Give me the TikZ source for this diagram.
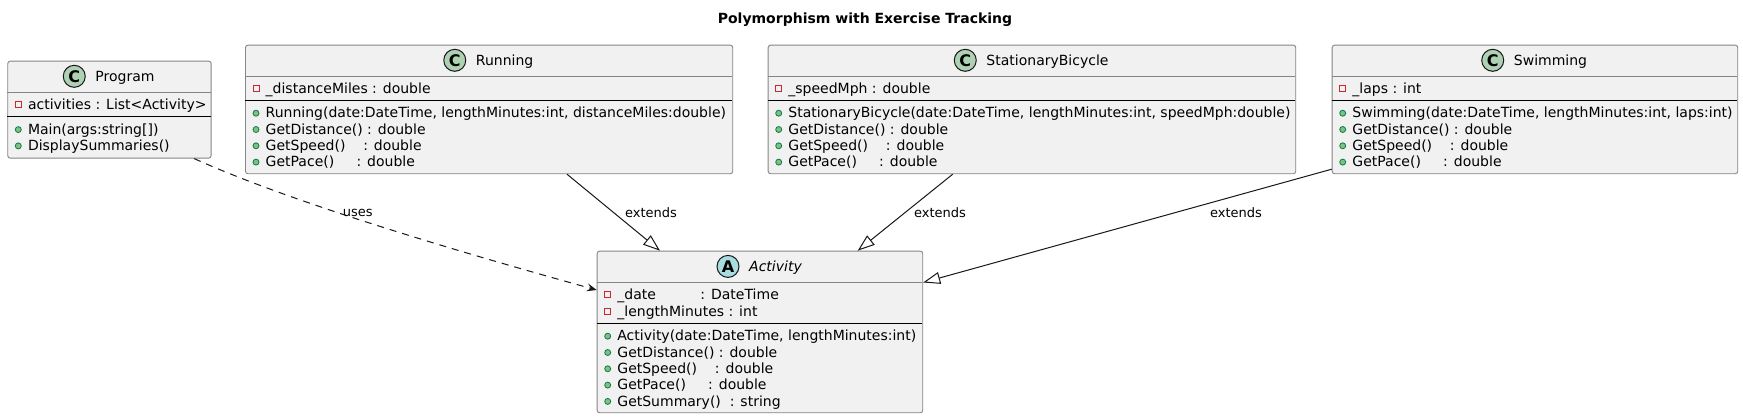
\documentclass[tikz,border=0pt]{standalone}
\usepackage{fontspec}
\setmainfont{DejaVu Sans}
\usetikzlibrary{arrows.meta,calc}
\definecolor{umlborder}{HTML}{181818}
\definecolor{boxedge}{HTML}{858585}
\definecolor{umlfill}{HTML}{F1F1F1}
\definecolor{circC}{HTML}{ADD1B2}
\definecolor{circA}{HTML}{A9DCDF}
\definecolor{privred}{HTML}{C82930}
\definecolor{pubgreen}{HTML}{038048}
\definecolor{pubfill}{HTML}{84BE84}
\newcommand{\memfont}{\fontsize{14}{16.3}\selectfont}
\newcommand{\lblfont}{\fontsize{13}{15}\selectfont}
\newcommand{\ttlfont}{\fontsize{14}{16}\selectfont\bfseries}
\newcommand{\spcs}[1]{\hspace*{#1\fontdimen2\font}}
\tikzset{
  classbox/.style={draw=boxedge, line width=0.9pt, fill=umlfill, rounded corners=2.5pt, inner sep=0pt, anchor=north west},
  mtext/.style={anchor=base west, inner sep=0pt, font=\memfont},
  cname/.style={anchor=base, inner sep=0pt, font=\memfont},
  circlemark/.style={circle, draw=umlborder, line width=1pt, minimum size=22pt, inner sep=0pt, font=\fontsize{16}{16}\selectfont\bfseries},
  privmark/.style={draw=privred, line width=0.9pt},
  pubmark/.style={draw=pubgreen, fill=pubfill, line width=0.8pt},
  hsep/.style={draw=boxedge, line width=0.9pt},
  fsep/.style={draw=black, line width=1pt},
  extarrow/.style={draw=umlborder, line width=1pt, -{Triangle[open, length=17pt, width=12pt]}},
  usesarrow/.style={draw=umlborder, line width=1pt, dash pattern=on 7pt off 6pt, -{Stealth[length=10pt, width=8pt, inset=4pt]}},
  lbl/.style={anchor=base, inner sep=0pt, font=\lblfont}
}
% name, left x, baseline, text
\newcommand{\mpriv}[4]{%
  \draw[privmark] (#2+8,#3-8) rectangle (#2+14,#3-2);
  \node[mtext] (#1) at (#2+20.5,#3) {#4};}
\newcommand{\mpub}[4]{%
  \draw[pubmark] (#2+11,#3-4.6) circle[radius=3pt];
  \node[mtext] (#1) at (#2+20.5,#3) {#4};}
% prefix, box centre x, baseline, circle colour, letter, name
\newcommand{\chead}[6]{%
  \node[cname] (#1name) at (#2+16,#3) {#6};
  \node[circlemark, fill=#4] (#1circ) at ($(#1name.base west)+(-21,-5.2)$) {#5};}
\begin{document}
\begin{tikzpicture}[x=1pt, y=-1pt]
\fill[white] (0,0) rectangle (1743,418);
\useasboundingbox (0,0) rectangle (1743,418);

\node[anchor=base, font=\ttlfont, inner sep=0pt] (title) at (865,23.3) {Polymorphism with Exercise Tracking};

% Program
\node[classbox, minimum width=203.4pt, minimum height=97pt] (prog) at (7.3,60.7) {};
\chead{prog}{109}{81.5}{circC}{C}{Program}
\draw[hsep] (7.3,92.3) -- (210.7,92.3);
\draw[fsep] (7.3,116.7) -- (210.7,116.7);
\mpriv{pf1}{7.3}{109.8}{activities : List\textless Activity\textgreater}
\mpub{pm1}{7.3}{134.2}{Main(args:string[])}
\mpub{pm2}{7.3}{150.5}{DisplaySummaries()}

% Running
\node[classbox, minimum width=487.3pt, minimum height=128.6pt] (run) at (245,44.7) {};
\chead{run}{488.65}{65.5}{circC}{C}{Running}
\draw[hsep] (245,76.3) -- (732.3,76.3);
\draw[fsep] (245,100.3) -- (732.3,100.3);
\mpriv{rf1}{245}{93.8}{\_distanceMiles : double}
\mpub{rm1}{245}{117.8}{Running(date:DateTime, lengthMinutes:int, distanceMiles:double)}
\mpub{rm2}{245}{134.1}{GetDistance() : double}
\mpub{rm3}{245}{150.4}{GetSpeed()\spcs{4}: double}
\mpub{rm4}{245}{166.7}{GetPace()\spcs{5}: double}

% StationaryBicycle
\node[classbox, minimum width=527.6pt, minimum height=128.6pt] (sb) at (767.7,44.7) {};
\chead{sb}{1031.5}{65.5}{circC}{C}{StationaryBicycle}
\draw[hsep] (767.7,76.3) -- (1295.3,76.3);
\draw[fsep] (767.7,100.3) -- (1295.3,100.3);
\mpriv{sf1}{767.7}{93.8}{\_speedMph : double}
\mpub{sm1}{767.7}{117.8}{StationaryBicycle(date:DateTime, lengthMinutes:int, speedMph:double)}
\mpub{sm2}{767.7}{134.1}{GetDistance() : double}
\mpub{sm3}{767.7}{150.4}{GetSpeed()\spcs{4}: double}
\mpub{sm4}{767.7}{166.7}{GetPace()\spcs{5}: double}

% Swimming
\node[classbox, minimum width=405.6pt, minimum height=128.6pt] (swim) at (1331.7,44.7) {};
\chead{swim}{1534.5}{65.5}{circC}{C}{Swimming}
\draw[hsep] (1331.7,76.3) -- (1737.3,76.3);
\draw[fsep] (1331.7,100.3) -- (1737.3,100.3);
\mpriv{wf1}{1331.7}{93.8}{\_laps : int}
\mpub{wm1}{1331.7}{117.8}{Swimming(date:DateTime, lengthMinutes:int, laps:int)}
\mpub{wm2}{1331.7}{134.1}{GetDistance() : double}
\mpub{wm3}{1331.7}{150.4}{GetSpeed()\spcs{4}: double}
\mpub{wm4}{1331.7}{166.7}{GetPace()\spcs{5}: double}

% Activity
\node[classbox, minimum width=325.6pt, minimum height=161.6pt] (act) at (596.7,250.7) {};
\chead{act}{759.5}{271.6}{circA}{A}{\itshape Activity}
\draw[hsep] (596.7,282.3) -- (922.3,282.3);
\draw[fsep] (596.7,323.3) -- (922.3,323.3);
\mpriv{af1}{596.7}{299.8}{\_date\spcs{10}: DateTime}
\mpriv{af2}{596.7}{316.1}{\_lengthMinutes : int}
\mpub{am1}{596.7}{340.8}{Activity(date:DateTime, lengthMinutes:int)}
\mpub{am2}{596.7}{357.1}{GetDistance() : double}
\mpub{am3}{596.7}{373.4}{GetSpeed()\spcs{4}: double}
\mpub{am4}{596.7}{389.7}{GetPace()\spcs{5}: double}
\mpub{am5}{596.7}{406.0}{GetSummary()\spcs{2}: string}

% connectors
\draw[extarrow] ([xshift=322pt]run.south west) -- ([xshift=63.3pt]act.north west);
\draw[extarrow] ([xshift=185pt]sb.south west) -- ([xshift=261pt]act.north west);
\draw[extarrow] ([yshift=5pt]swim.south west) -- ([yshift=-31.8pt]act.north east);
\draw[usesarrow] ([xshift=-17.4pt]prog.south east)
   .. controls ($(prog.south east)+(82.6,45)$) and ($(act.north west)+(-130,3.3)$) ..
   ([yshift=-39.3pt]act.north west);

\node[lbl] (luses) at (357.7,216.7) {uses};
\node[lbl] (lrun) at (651,217) {extends};
\node[lbl] (lsb) at (940,217) {extends};
\node[lbl] (lswim) at (1236,217) {extends};
\end{tikzpicture}
\end{document}
